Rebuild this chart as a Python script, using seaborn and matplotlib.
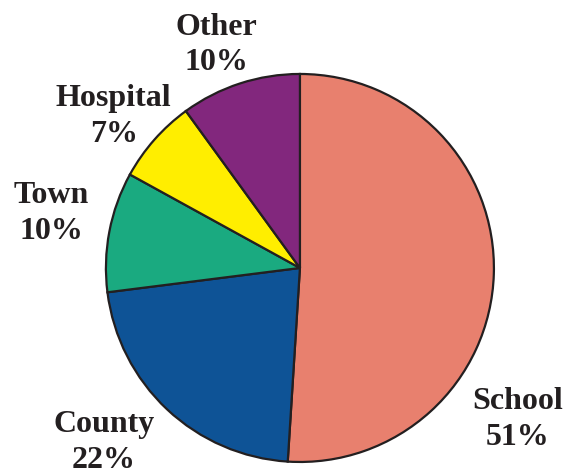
import matplotlib.pyplot as plt
import seaborn as sns

sns.set_style("white")
plt.rcParams['font.family'] = ['Liberation Serif', 'DejaVu Serif']

# data
categories = ['School', 'County', 'Town', 'Hospital', 'Other']
shares = [51, 22, 10, 7, 10]
colors = ['#E8806E', '#0E5396', '#1AAA80', '#FFEE00', '#82277D']

# where each label sits (in pie radius units)
label_pos = [(1.12, -0.78), (-1.01, -0.90), (-1.28, 0.28), (-0.96, 0.78), (-0.43, 1.15)]

fig = plt.figure(figsize=(5.69, 4.76), dpi=100)
ax = fig.add_axes([0, 0, 1, 1])

ax.pie(shares, colors=colors, startangle=90, counterclock=False,
       radius=1.0, wedgeprops={'edgecolor': '#231F20', 'linewidth': 1.6})

for name, val, (x, y) in zip(categories, shares, label_pos):
    ax.text(x, y, f"{name}\n{val}%", ha='center', va='center',
            fontsize=23, fontweight='bold', color='#231F20', linespacing=1.3)

ax.set_xlim(-1.546, 1.387)
ax.set_ylim(-1.072, 1.381)
ax.set_aspect('equal')
ax.axis('off')

fig.savefig('out.png', dpi=100)
